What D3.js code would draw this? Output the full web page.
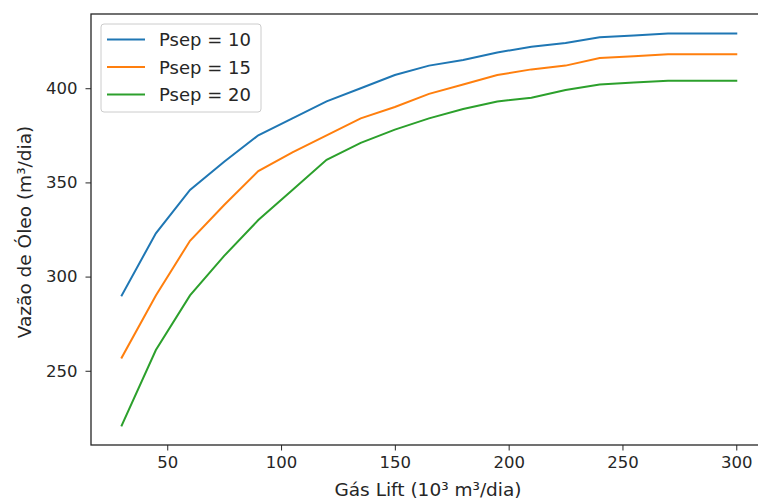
<!DOCTYPE html>
<html>
<head>
<meta charset="utf-8">
<script src="https://cdn.jsdelivr.net/npm/d3@7"></script>
<style>
  body { margin: 0; background: #fff; }
  svg text { font-family: "DejaVu Sans", sans-serif; fill: #262626; }
</style>
</head>
<body>
<svg id="chart" width="758" height="501"></svg>
<script>
const gasLift = [30, 45, 60, 75, 90, 105, 120, 135, 150, 165, 180, 195, 210, 225, 240, 255, 270, 285, 300];
const psep10 = [290, 323, 346, 361, 375, 384, 393, 400, 407, 412, 415, 419, 422, 424, 427, 428, 429, 429, 429];
const psep15 = [257, 290, 319, 338, 356, 366, 375, 384, 390, 397, 402, 407, 410, 412, 416, 417, 418, 418, 418];
const psep20 = [221, 261, 290, 311, 330, 346, 362, 371, 378, 384, 389, 393, 395, 399, 402, 403, 404, 404, 404];
const seriesNames = ["Psep = 10", "Psep = 15", "Psep = 20"];
const colors = ["#1f77b4", "#ff7f0e", "#2ca02c"];
const xTicks = [50, 100, 150, 200, 250, 300];
const yTicks = [250, 300, 350, 400];

const svg = d3.select("#chart");
const plotLeft = 91, plotTop = 14, plotRight = 767, plotBottom = 445;

const series = [psep10, psep15, psep20];
const allY = series.flat();
const xPad = (d3.max(gasLift) - d3.min(gasLift)) * 0.05;
const yPad = (d3.max(allY) - d3.min(allY)) * 0.05;

let x = d3.scaleLinear()
  .domain([d3.min(gasLift) - xPad, d3.max(gasLift) + xPad])
  .range([plotLeft, plotRight]);
let y = d3.scaleLinear()
  .domain([d3.min(allY) - yPad, d3.max(allY) + yPad])
  .range([plotBottom, plotTop]);

let line = d3.line()
  .x((d, i) => x(gasLift[i]))
  .y(d => y(d));

svg.append("g")
  .selectAll("path")
  .data(series)
  .enter()
  .append("path")
  .attr("d", d => line(d))
  .attr("fill", "none")
  .attr("stroke", (d, i) => colors[i])
  .attr("stroke-width", 2)
  .attr("stroke-linecap", "square");

// axes
let xAxis = svg.append("g")
  .attr("transform", `translate(0,${plotBottom})`)
  .call(d3.axisBottom(x).tickValues(xTicks).tickSize(5.5).tickPadding(6).tickSizeOuter(0));
let yAxis = svg.append("g")
  .attr("transform", `translate(${plotLeft},0)`)
  .call(d3.axisLeft(y).tickValues(yTicks).tickSize(5.5).tickPadding(8).tickSizeOuter(0));

[xAxis, yAxis].forEach(g => {
  g.select(".domain").remove();
  g.selectAll(".tick line").attr("stroke", "#262626").attr("stroke-width", 1);
  g.selectAll(".tick text").style("font-size", "16.5px").attr("fill", "#262626");
});

// frame
svg.append("rect")
  .attr("x", plotLeft)
  .attr("y", plotTop)
  .attr("width", plotRight - plotLeft)
  .attr("height", plotBottom - plotTop)
  .attr("fill", "none")
  .attr("stroke", "#262626")
  .attr("stroke-width", 1.3);

// axis labels
svg.append("text")
  .attr("x", 428)
  .attr("y", 496)
  .attr("text-anchor", "middle")
  .style("font-size", "18.5px")
  .text("Gás Lift (10³ m³/dia)");

svg.append("text")
  .attr("transform", "translate(31,232) rotate(-90)")
  .attr("text-anchor", "middle")
  .style("font-size", "18.5px")
  .text("Vazão de Óleo (m³/dia)");

// legend
let legend = svg.append("g");
legend.append("rect")
  .attr("x", 101)
  .attr("y", 24)
  .attr("width", 160)
  .attr("height", 88)
  .attr("rx", 3)
  .attr("fill", "#fff")
  .attr("fill-opacity", 0.8)
  .attr("stroke", "#ccc");

seriesNames.forEach((name, i) => {
  let ly = 39.5 + i * 27.5;
  legend.append("line")
    .attr("x1", 107).attr("x2", 145)
    .attr("y1", ly).attr("y2", ly)
    .attr("stroke", colors[i])
    .attr("stroke-width", 2);
  legend.append("text")
    .attr("x", 159)
    .attr("y", ly + 6.5)
    .style("font-size", "18px")
    .text(name);
});
</script>
</body>
</html>
